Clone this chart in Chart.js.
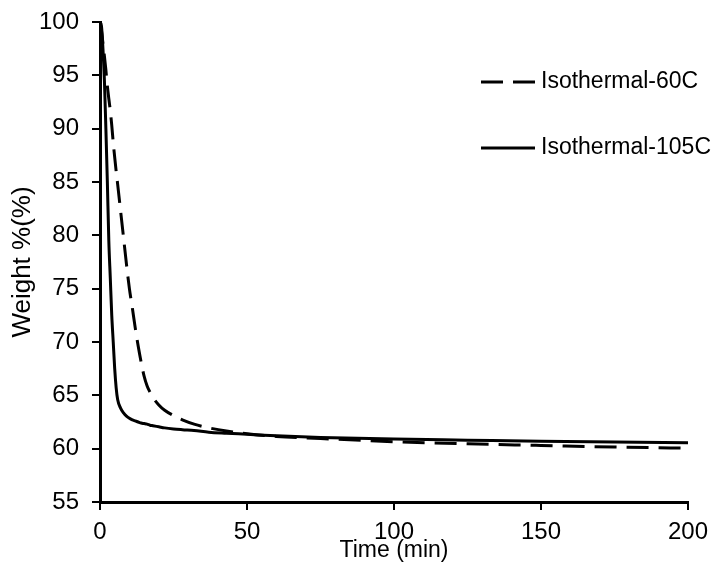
<!DOCTYPE html>
<html>
<head>
<meta charset="utf-8">
<script src="https://cdn.jsdelivr.net/npm/chart.js@4.4.1/dist/chart.umd.min.js"></script>
<style>
  html, body { margin: 0; padding: 0; background: #fff; }
  #wrap { width: 717px; height: 564px; }
</style>
</head>
<body>
<div id="wrap"><canvas id="chart" width="717" height="564"></canvas></div>
<script>
// Czas (min) - wspólny dla obu serii
const timeMin = [0, 0.5, 1, 1.5, 2, 2.5, 3, 3.5, 4, 4.5, 5, 5.5, 6, 7, 8, 9, 10, 11, 12, 13, 14, 15, 16, 17, 18,
  20, 22, 25, 28, 32, 37, 43, 50, 60, 75, 100, 125, 150, 175, 200];

// Isothermal-60C (linia przerywana)
const weight60C = [100, 99.2, 98, 96.8, 95.5, 94, 92.8, 91.7, 90.3, 88.7, 87.3, 86, 84.8, 82.3, 79.8, 77.3, 75.0,
  73.2, 71.3, 69.6, 68.1, 66.8, 65.9, 65.3, 64.8, 64.1, 63.6, 63.1, 62.7, 62.3, 61.95, 61.65, 61.4, 61.15, 60.95,
  60.65, 60.45, 60.3, 60.15, 60.05];

// Isothermal-105C (linia ciągła)
const weight105C = [100, 99.6, 97.5, 94.5, 90, 85, 79.5, 76, 72.5, 70, 67.5, 65.7, 64.6, 63.8, 63.35, 63.05, 62.85,
  62.7, 62.6, 62.5, 62.4, 62.35, 62.3, 62.2, 62.15, 62.05, 61.95, 61.85, 61.78, 61.7, 61.55, 61.45, 61.35, 61.2,
  61.05, 60.9, 60.8, 60.7, 60.62, 60.55];

const seriesLabels = ['Isothermal-60C', 'Isothermal-105C'];
const xTicks = [0, 50, 100, 150, 200];
const yTicks = [55, 60, 65, 70, 75, 80, 85, 90, 95, 100];

const FONT = 'Liberation Sans, Arial, sans-serif';

// Legenda rysowana wewnątrz obszaru wykresu
const insideLegend = {
  id: 'insideLegend',
  afterDraw(chart) {
    const ctx = chart.ctx;
    const rows = [82, 148];
    ctx.save();
    chart.data.datasets.forEach((ds, i) => {
      const y = rows[i];
      ctx.beginPath();
      ctx.strokeStyle = ds.borderColor;
      ctx.lineWidth = ds.borderWidth;
      ctx.setLineDash(ds.borderDash || []);
      ctx.moveTo(481, y);
      ctx.lineTo(535, y);
      ctx.stroke();
      ctx.setLineDash([]);
      ctx.fillStyle = '#000';
      ctx.font = '23px ' + FONT;
      ctx.textBaseline = 'middle';
      ctx.textAlign = 'left';
      ctx.fillText(ds.label, 541, y);
    });
    ctx.restore();
  }
};

const toPoints = vals => timeMin.map((t, i) => ({ x: t, y: vals[i] }));

new Chart(document.getElementById('chart').getContext('2d'), {
  type: 'line',
  data: {
    datasets: [{
      label: seriesLabels[0],
      data: toPoints(weight60C),
      borderColor: '#000',
      borderWidth: 3,
      borderDash: [22, 10],
      pointRadius: 0,
      cubicInterpolationMode: 'monotone',
      fill: false
    }, {
      label: seriesLabels[1],
      data: toPoints(weight105C),
      borderColor: '#000',
      borderWidth: 3,
      pointRadius: 0,
      cubicInterpolationMode: 'monotone',
      fill: false
    }]
  },
  options: {
    responsive: false,
    animation: false,
    layout: { padding: { left: 0, top: 22, right: 29, bottom: 0 } },
    plugins: {
      legend: { display: false },
      tooltip: { enabled: false }
    },
    scales: {
      x: {
        type: 'linear',
        min: 0,
        max: 200,
        afterFit: s => { s.height = 62; },
        afterBuildTicks: s => { s.ticks = xTicks.map(v => ({ value: v })); },
        grid: { drawOnChartArea: false, color: '#000', lineWidth: 2, tickLength: 8 },
        border: { color: '#000', width: 3 },
        ticks: { color: '#000', padding: 8, maxRotation: 0, font: { family: FONT, size: 24 } },
        title: { display: true, text: 'Time (min)', color: '#000', padding: { top: -8, bottom: 0 },
          font: { family: FONT, size: 23 } }
      },
      y: {
        min: 55,
        max: 100,
        afterFit: s => { s.width = 100; s.paddingTop = 0; s.paddingBottom = 0; },
        afterBuildTicks: s => { s.ticks = yTicks.map(v => ({ value: v })); },
        grid: { drawOnChartArea: false, color: '#000', lineWidth: 2, tickLength: 8 },
        border: { color: '#000', width: 3 },
        ticks: { color: '#000', padding: 13, font: { family: FONT, size: 24 } },
        title: { display: true, text: 'Weight %(%)', color: '#000', padding: { top: 7, bottom: 0 },
          font: { family: FONT, size: 26 } }
      }
    }
  },
  plugins: [insideLegend]
});
</script>
</body>
</html>
